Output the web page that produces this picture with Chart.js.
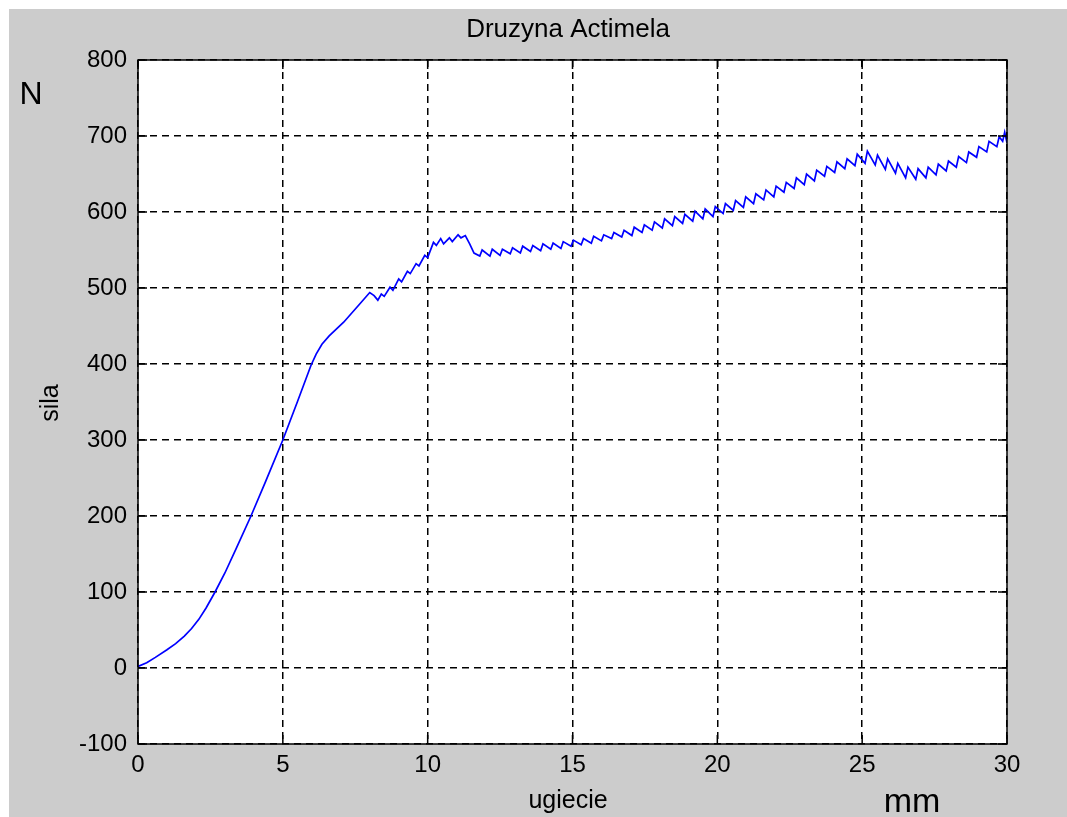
<!DOCTYPE html>
<html lang="pl">
<head>
<meta charset="UTF-8">
<title>Druzyna Actimela</title>
<style>
  html, body { margin: 0; padding: 0; background: #fff; }
  #figura {
    position: absolute;
    left: 9px;
    top: 9px;
    width: 1058px;
    height: 808px;
    background: #cccccc;
  }
</style>
</head>
<body>
<div id="figura"><canvas id="wykres" width="1058" height="808"></canvas></div>

<script src="https://cdn.jsdelivr.net/npm/chart.js"></script>
<script>
  // ugiecie [mm] i sila [N] z pomiaru
  const ugiecieMm = [
    0, 0.3, 0.6, 1.0, 1.3, 1.6, 1.85, 2.1, 2.35, 2.66, 3.0, 3.4,
    3.9, 4.4, 5.0, 5.5, 5.97, 6.15, 6.35, 6.6, 7.1, 7.7, 8.0,
    8.15, 8.28, 8.4, 8.5, 8.7, 8.8, 9.0, 9.1, 9.3, 9.4,
    9.6, 9.7, 9.9, 10.0, 10.2, 10.3, 10.45, 10.55, 10.75, 10.85,
    11.05, 11.15, 11.3, 11.45, 11.6,
    11.8, 11.88, 12.15, 12.23, 12.5, 12.58, 12.85, 12.93,
    13.2, 13.28, 13.55, 13.63, 13.9, 13.98, 14.25, 14.33,
    14.6, 14.68, 14.95, 15.03, 15.3, 15.38, 15.65, 15.73,
    16.0, 16.08, 16.35, 16.43, 16.7, 16.78, 17.05, 17.13,
    17.4, 17.48, 17.75, 17.83, 18.1, 18.18, 18.45, 18.53,
    18.8, 18.88, 19.15, 19.23, 19.5, 19.58, 19.85, 19.93,
    20.2, 20.28, 20.55, 20.63, 20.9, 20.98, 21.25, 21.33,
    21.6, 21.68, 21.95, 22.03, 22.3, 22.38, 22.65, 22.73,
    23.0, 23.08, 23.35, 23.43, 23.7, 23.78, 24.05, 24.13,
    24.4, 24.48, 24.75, 24.83, 25.1, 25.18, 25.45, 25.53,
    25.8, 25.88, 26.15, 26.23, 26.5, 26.58, 26.85, 26.93,
    27.2, 27.28, 27.55, 27.63, 27.9, 27.98, 28.25, 28.33,
    28.6, 28.68, 28.95, 29.03, 29.3, 29.38, 29.65, 29.73,
    29.85, 29.92, 30.0
  ];
  const silaN = [
    2, 7, 14, 24, 32, 42, 52, 64, 79, 100, 125, 158,
    200, 245, 300, 350, 398, 413, 426, 437, 455, 481, 494,
    490, 484, 492, 489, 501, 497, 512, 508, 522, 519,
    532, 529, 543, 540, 560, 556, 565, 558, 566, 561,
    570, 566, 569, 558, 546,
    542, 550, 542, 551, 543, 551, 545, 553,
    546, 555, 548, 556, 549, 558, 551, 559,
    552, 561, 555, 563, 557, 565, 559, 568,
    562, 570, 565, 573, 567, 576, 569, 580,
    573, 583, 576, 587, 579, 591, 582, 594,
    585, 597, 588, 601, 591, 604, 594, 607,
    598, 611, 602, 615, 606, 620, 611, 624,
    616, 629, 620, 634, 626, 639, 631, 645,
    636, 650, 641, 655, 647, 660, 652, 666,
    657, 670, 661, 676, 664, 680, 662, 675,
    656, 670, 651, 664, 645, 659, 643, 657,
    645, 659, 649, 663, 654, 667, 659, 673,
    665, 679, 672, 686, 679, 693, 686, 699,
    693, 705, 691
  ];

  const FONT = "'Liberation Sans', Arial, sans-serif";

  // biale tlo pola wykresu
  const tloOsi = {
    id: 'tloOsi',
    beforeDraw(chart) {
      const { ctx, chartArea: a } = chart;
      ctx.save();
      ctx.fillStyle = '#fff';
      ctx.fillRect(a.left, a.top, a.right - a.left, a.bottom - a.top);
      ctx.restore();
    }
  };

  // rama osi i krotkie kreski podzialki do srodka
  const ramka = {
    id: 'ramka',
    afterDatasetsDraw(chart) {
      const { ctx, chartArea: a, scales: { x, y } } = chart;
      ctx.save();
      ctx.setLineDash([]);
      ctx.strokeStyle = '#000';
      ctx.lineWidth = 1.5;
      ctx.beginPath();
      x.ticks.forEach(t => {
        const px = x.getPixelForValue(t.value);
        ctx.moveTo(px, a.bottom); ctx.lineTo(px, a.bottom - 9);
        ctx.moveTo(px, a.top); ctx.lineTo(px, a.top + 9);
      });
      y.ticks.forEach(t => {
        const py = y.getPixelForValue(t.value);
        ctx.moveTo(a.left, py); ctx.lineTo(a.left + 9, py);
        ctx.moveTo(a.right, py); ctx.lineTo(a.right - 9, py);
      });
      ctx.stroke();
      ctx.strokeRect(a.left, a.top, a.right - a.left, a.bottom - a.top);
      ctx.restore();
    }
  };

  // tytul, opisy osi i jednostki
  const napisy = {
    id: 'napisy',
    afterDraw(chart) {
      const ctx = chart.ctx;
      ctx.save();
      ctx.fillStyle = '#000';
      ctx.textAlign = 'center';
      ctx.textBaseline = 'alphabetic';

      ctx.font = '26px ' + FONT;
      ctx.fillText('Druzyna Actimela', 559, 28);

      ctx.font = '25px ' + FONT;
      ctx.fillText('ugiecie', 559, 799);
      ctx.save();
      ctx.translate(49, 394);
      ctx.rotate(-Math.PI / 2);
      ctx.fillText('sila', 0, 0);
      ctx.restore();

      ctx.font = '32px ' + FONT;
      ctx.fillText('N', 22, 95);
      ctx.font = '34px ' + FONT;
      ctx.fillText('mm', 903, 803);
      ctx.restore();
    }
  };

  const tickFont = { family: FONT, size: 24 };

  new Chart(document.getElementById('wykres'), {
    type: 'line',
    data: {
      labels: ugiecieMm,
      datasets: [{
        data: silaN,
        borderColor: '#0000ff',
        borderWidth: 1.7,
        pointRadius: 0,
        tension: 0,
        fill: false
      }]
    },
    options: {
      responsive: false,
      animation: false,
      layout: { padding: { left: 0, top: 51, right: 60, bottom: 0 } },
      plugins: {
        legend: { display: false },
        tooltip: { enabled: false }
      },
      scales: {
        x: {
          type: 'linear',
          min: 0,
          max: 30,
          ticks: { stepSize: 5, color: '#000', font: tickFont, padding: 7, maxRotation: 0 },
          grid: { color: '#000', lineWidth: 1.5, drawTicks: false },
          border: { display: false, dash: [7, 5] },
          afterFit: s => { s.height = 73; }
        },
        y: {
          min: -100,
          max: 800,
          ticks: { stepSize: 100, color: '#000', font: tickFont, padding: 11 },
          grid: { color: '#000', lineWidth: 1.5, drawTicks: false },
          border: { display: false, dash: [7, 5] },
          afterFit: s => { s.width = 129; }
        }
      }
    },
    plugins: [tloOsi, ramka, napisy]
  });
</script>
</body>
</html>
